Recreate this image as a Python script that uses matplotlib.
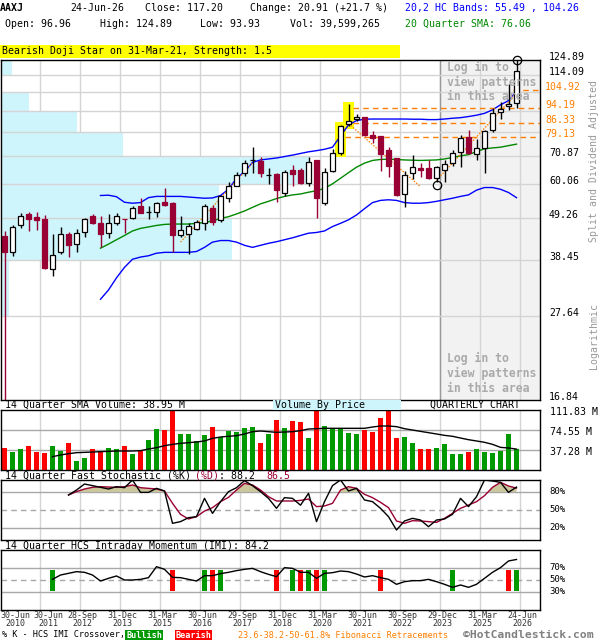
import numpy as np
import matplotlib
matplotlib.use('Agg')
import matplotlib.pyplot as plt
from matplotlib.patches import Rectangle
from matplotlib import transforms

plt.rcParams['font.family'] = ['DejaVu Sans Mono', 'DejaVu Sans']

# ---------------- data ----------------
ticker = 'AAXJ'
last_date = '24-Jun-26'
last_open, last_high, last_low, last_close = 96.96, 124.89, 93.93, 117.20
change, change_pct = 20.91, 21.7
last_volume = 39599265
band_lower_last, band_upper_last = 55.49, 104.26
sma_last = 76.06
vol_sma_last = 38.95
stoch_k_last, stoch_d_last = 88.2, 86.5
imi_last = 84.2
pattern_text = 'Bearish Doji Star on 31-Mar-21, Strength: 1.5'

quarter_labels = [('30-Jun', '2010'), ('30-Jun', '2011'), ('28-Sep', '2012'), ('31-Dec', '2013'),
                  ('31-Mar', '2015'), ('30-Jun', '2016'), ('29-Sep', '2017'), ('31-Dec', '2018'),
                  ('31-Mar', '2020'), ('30-Jun', '2021'), ('30-Sep', '2022'), ('29-Dec', '2023'),
                  ('31-Mar', '2025'), ('24-Jun', '2026')]
label_index = [0, 4, 9, 14, 19, 24, 29, 34, 39, 44, 49, 54, 59, 64]

opens = [44.3, 40.2, 47.1, 50.4, 49.6, 49.0, 36.4, 40.2, 44.8, 42.2,
         45.2, 49.8, 47.7, 45.0, 47.9, 48.9, 49.1, 52.7, 51.0, 51.1,
         54.2, 53.9, 44.6, 44.7, 46.1, 47.7, 52.2, 48.7, 55.3, 59.5,
         64.1, 69.2, 68.9, 63.4, 63.7, 57.0, 65.4, 65.4, 60.4, 69.1,
         53.9, 65.0, 72.4, 85.7, 88.1, 89.1, 80.3, 79.8, 73.5, 70.0,
         56.6, 64.1, 66.0, 66.0, 62.2, 65.4, 68.0, 72.5, 79.2, 71.8,
         74.3, 82.7, 91.7, 95.3, 96.96]
highs = [45.6, 47.1, 50.6, 51.1, 50.9, 50.1, 44.8, 46.7, 45.3, 46.2,
         49.1, 50.4, 49.8, 50.3, 50.6, 49.0, 52.7, 55.4, 52.7, 54.2,
         58.9, 54.2, 49.8, 47.7, 48.7, 53.4, 53.2, 56.4, 60.8, 64.7,
         69.1, 74.7, 70.4, 66.0, 64.1, 65.4, 67.2, 66.0, 70.7, 69.2,
         66.0, 73.8, 85.2, 96.2, 90.9, 89.5, 82.4, 80.0, 74.7, 70.2,
         65.1, 71.4, 68.0, 69.3, 66.9, 69.3, 73.5, 80.3, 82.7, 78.5,
         82.5, 94.3, 97.7, 108.2, 124.89]
lows = [15.0, 39.4, 46.5, 45.5, 45.9, 36.4, 34.9, 39.8, 39.0, 40.2,
        44.1, 47.6, 41.4, 43.7, 47.1, 45.0, 48.8, 50.6, 48.9, 49.4,
        52.7, 40.2, 44.0, 39.8, 45.9, 45.9, 47.1, 48.2, 54.2, 59.3,
        63.2, 64.3, 62.8, 60.2, 54.2, 56.1, 59.3, 60.2, 59.5, 49.2,
        53.0, 64.7, 71.4, 84.4, 87.4, 79.8, 76.5, 65.1, 62.8, 56.1,
        52.5, 62.0, 62.8, 61.9, 61.0, 61.0, 66.7, 66.4, 71.7, 69.3,
        64.3, 81.9, 88.1, 93.1, 93.93]
closes = [40.2, 46.8, 49.8, 49.0, 48.7, 36.6, 39.6, 44.8, 42.1, 45.0,
          48.9, 47.7, 44.7, 47.7, 49.8, 48.8, 52.2, 50.8, 51.1, 53.7,
          53.2, 44.4, 45.8, 47.0, 48.2, 52.7, 48.0, 55.9, 59.5, 63.5,
          68.0, 69.4, 64.3, 63.5, 57.9, 64.5, 63.8, 60.4, 68.4, 55.3,
          64.5, 72.1, 84.4, 87.2, 89.1, 80.3, 79.1, 71.8, 66.7, 56.2,
          63.5, 66.4, 65.2, 62.2, 66.3, 67.6, 72.1, 78.8, 72.1, 74.3,
          82.4, 91.6, 93.4, 96.4, 117.20]
volumes = [41.6, 34.2, 39.1, 44.7, 34.2, 32.3, 44.7, 35.4, 50.3, 16.8,
           22.9, 39.1, 35.4, 41.6, 39.8, 44.7, 29.8, 35.4, 55.9, 77.0,
           75.1, 111.8, 67.1, 67.1, 54.1, 65.2, 80.1, 61.5, 72.7, 70.8,
           78.3, 80.1, 50.3, 67.1, 93.2, 78.3, 91.3, 90.0, 59.6, 111.8,
           82.0, 77.0, 77.0, 69.0, 67.1, 74.5, 70.8, 96.9, 111.8, 59.6,
           61.5, 50.3, 39.1, 39.1, 41.0, 48.5, 29.8, 29.8, 33.5, 39.1,
           33.5, 31.7, 35.4, 67.1, 39.6]

sma_start = 12
sma20 = [41.2, 42.2, 43.3, 44.4, 45.6, 46.3, 46.7, 47.1, 47.4, 47.5, 47.5, 47.5, 47.7,
         47.9, 48.4, 49.1, 49.6, 50.4, 51.3, 52.4, 53.5, 54.3, 55.2, 55.9, 56.4, 56.7,
         57.3, 57.8, 58.6, 60.2, 62.2, 64.3, 66.4, 68.0, 69.1, 69.5, 69.6, 69.5, 69.3,
         69.2, 69.1, 69.2, 69.3, 69.7, 70.3, 71.0, 71.5, 72.8, 74.0, 74.4, 74.7, 75.4, 76.06]
upper_band = [56.2, 56.3, 55.8, 54.0, 53.7, 53.9, 55.5, 55.9, 55.9, 55.9, 55.9, 55.7, 55.5,
              55.3, 55.4, 56.2, 58.3, 62.2, 64.7, 68.3, 69.3, 69.7, 70.1, 70.7, 71.3, 72.0,
              72.7, 73.2, 73.8, 74.7, 79.8, 85.2, 87.4, 88.1, 88.2, 88.2, 88.2, 88.2, 88.2,
              88.1, 88.1, 87.9, 87.9, 88.2, 88.6, 88.9, 89.5, 90.2, 91.2, 93.1, 95.9, 98.3, 104.26]
lower_band = [30.5, 32.2, 34.6, 36.8, 38.6, 39.1, 39.4, 40.0, 40.2, 40.2, 40.2, 40.2, 40.4,
              41.4, 42.7, 43.1, 43.1, 42.7, 41.9, 41.4, 41.9, 42.4, 42.8, 43.3, 43.8, 44.4,
              45.0, 45.2, 45.6, 46.8, 47.7, 48.7, 50.1, 52.0, 53.9, 54.6, 54.8, 54.6, 53.9,
              53.7, 53.7, 53.9, 54.3, 54.8, 55.3, 55.9, 56.4, 58.0, 58.9, 58.9, 58.3, 57.2, 55.49]

vol_sma_start = 6
vol_sma14 = [24.8, 28.0, 30.4, 32.3, 32.9, 33.5, 34.2, 34.8, 35.4, 35.4, 35.4, 36.0, 39.1,
             41.6, 45.3, 47.8, 49.7, 50.9, 52.2, 54.1, 59.0, 61.5, 62.8, 64.0, 67.1, 71.4,
             72.7, 71.4, 70.2, 70.8, 71.4, 73.3,
             76.4, 77.0, 77.7, 77.7, 77.7, 77.7, 77.7, 77.7, 80.1, 82.0, 82.0, 80.8, 77.0,
             74.5, 72.0, 69.6, 67.1, 64.6, 62.8, 59.6, 56.5, 54.1, 51.6, 47.8, 42.2, 41.0, 38.95]

stoch_start = 8
stoch_k = [75, 83.3, 93.3, 90.6, 87.8, 85, 88.9, 87.2, 100, 79.4, 79.4, 86.1, 81.7, 27.8,
           30.6, 37.2, 38.9, 69.4, 44.4, 63.9, 80.6, 87.2, 98.9, 90.6, 80.6, 69.4, 52.8,
           70.6, 69.4, 58,
           77.8, 30.6, 63.9, 90.6, 100, 81.7, 86.1, 66.7, 63.9, 52.8, 38.9, 16.7, 31.7,
           36.1, 33.3, 22.2, 33.3, 35, 42.8, 69.4, 55.6, 72.2, 100, 98.3, 96.1, 79.4, 88.2]
stoch_d = [75, 80.6, 85, 87.8, 88.9, 88.3, 87.8, 88.9, 91.7, 87.2, 86.1, 85, 81.7, 61.1,
           42.8, 35, 38.9, 48.3, 53.9, 63.9, 71.1, 83.3, 94.4, 91.7, 83.3, 72.2, 65,
           65, 65, 66,
           68.3, 55.6, 56.7, 61.1, 83.3, 88.9, 86.1, 76.1, 70.6, 62.8, 53.9, 31.7, 27.8,
           32.2, 31.7, 30.6, 29.4, 36.1, 44.4, 52.8, 58.3, 63.9, 73.9, 87.8, 96.1, 90, 86.5]

imi_start = 6
imi = [51.1, 58.3, 61.1, 63.9, 62.8, 58.3, 48.3, 52.8, 56.7, 50, 50, 51.1, 53.9, 72.2,
       67.8, 54.4, 53.9, 51.1, 48.3, 57.2, 57.2, 60.6, 62.8, 65.6, 67.8, 69.4, 63.9,
       59.4, 55.6, 70.6, 69.4, 62.8,
       62.8, 52.8, 61.1, 62.2, 65, 63.9, 60, 55, 57.2, 53.9, 51.1, 42.8, 47.2, 48.9,
       48.9, 51.1, 47.2, 42.8, 37.8, 41.7, 37.8, 42.8, 52.8, 62.8, 70.6, 81.7, 84.2]
bull_cross = [6, 25, 27, 36, 38, 40, 56, 64]
bear_cross = [21, 26, 34, 37, 39, 47, 63]

pattern_idx = [42, 43]
fib_levels = [104.92, 94.19, 86.33, 79.13]
fib_low_idx, fib_low = 54, 59.7
fib_high_idx, fib_high = 64, 124.89
zigzag = [((22, 42.7), (31, 68.0)), ((43, 85.9), (52, 59.2)), ((54, 61.4), (64, 102.6))]

price_grid = [27.64, 38.45, 49.26, 60.06, 70.87, 81.68, 92.49, 103.30, 114.09]
price_labels = [16.84, 27.64, 38.45, 49.26, 60.06, 70.87, 114.09, 124.89]
price_min, price_max = 16.84, 124.89
vbp_edges = [16.84, 27.64, 38.45, 49.26, 60.06, 70.87, 81.68, 92.49, 103.30, 114.09, 124.89]
vbp_volume = [0, 8, 231, 218, 308, 122, 76, 28, 1, 11]
vol_ticks = [37.28, 74.55, 111.83]

# ---------------- style ----------------
MAROON = '#990033'
GREEN = '#009900'
RED = '#ff0000'
ORANGE = '#ff7f00'
CYAN = '#cdf5fb'
GRID = '#d4d4d4'
SUBGRID = '#a8a8a8'
FS = 7.1

W_PX, H_PX = 600, 640
fig = plt.figure(figsize=(6, 6.4), dpi=100)
fig.patch.set_facecolor('white')

def fy(py):
    return 1 - py / H_PX

AX_L, AX_W = 1, 539
XMIN = -3.5 / 8
XMAX = (AX_W - 3.5) / 8
GRID_OFF = 0.4375

def px_of(xd):
    return AX_L + (xd - XMIN) / (XMAX - XMIN) * AX_W

def make_ax(top, bottom):
    ax = fig.add_axes([AX_L / W_PX, fy(bottom), AX_W / W_PX, (bottom - top) / H_PX])
    ax.set_xlim(XMIN, XMAX)
    ax.set_xticks([])
    ax.set_yticks([])
    for s in ax.spines.values():
        s.set_color('black')
        s.set_linewidth(1.0)
        s.set_zorder(20)
    return ax

ax_p = make_ax(60, 400)
ax_v = make_ax(410, 470)
ax_s = make_ax(480, 540)
ax_m = make_ax(550, 610)

n = len(opens)
idx = np.arange(n)
vgrid = [i + GRID_OFF for i in label_index[1:]]

# ---------------- price panel ----------------
ax_p.set_yscale('log')
ax_p.set_ylim(price_min, price_max)
ax_p.yaxis.set_minor_locator(matplotlib.ticker.NullLocator())
ax_p.set_yticks([])

gray_x0 = label_index[11] + GRID_OFF
ax_p.add_patch(Rectangle((gray_x0, price_min), XMAX - gray_x0, price_max - price_min,
                         facecolor='#f2f2f2', edgecolor='none', zorder=0))
for g in vgrid:
    ax_p.axvline(g, color=GRID, lw=1, zorder=0.5)
ax_p.axvline(gray_x0, color='#999999', lw=1, zorder=0.6)

vmax = max(vbp_volume)
span = XMAX - XMIN
for lo, hi, v in zip(vbp_edges[:-1], vbp_edges[1:], vbp_volume):
    if v > 0:
        ax_p.barh(lo, v / vmax * 0.571 * span, height=hi - lo, left=XMIN, align='edge',
                  color=CYAN, edgecolor='none', zorder=1)
for g in price_grid:
    ax_p.axhline(g, color=GRID, lw=1, zorder=1.5)

for k, t in enumerate(['Log in to', 'view patterns', 'in this area']):
    fig.text(447 / W_PX, fy(67 + 15 * k), t, ha='left', va='center', fontsize=8.3,
             fontweight='bold', color='#aaaaaa', zorder=2)
    fig.text(447 / W_PX, fy(358 + 15 * k), t, ha='left', va='center', fontsize=8.3,
             fontweight='bold', color='#aaaaaa', zorder=2)

for p in pattern_idx:
    ax_p.add_patch(Rectangle((p - 0.7, lows[p] / 1.015), 1.4,
                             highs[p] * 1.015 - lows[p] / 1.015,
                             facecolor='#ffff00', edgecolor='none', zorder=2))

xb = np.arange(sma_start, sma_start + len(sma20))
ax_p.plot(xb, sma20, color='#008800', lw=1, zorder=3)
ax_p.plot(xb, upper_band, color='#0000ff', lw=1, zorder=3)
ax_p.plot(xb, lower_band, color='#0000ff', lw=1, zorder=3)

for (x0, y0), (x1, y1) in zigzag:
    ax_p.plot([x0, x1], [y0, y1], color=ORANGE, lw=0.9, ls=(0, (1.2, 1.2)), zorder=3.5)

for i in range(n):
    o, h, l, c = opens[i], highs[i], lows[i], closes[i]
    bull = c >= o
    col = 'black' if bull else MAROON
    ax_p.plot([i, i], [l, h], color=col, lw=1, zorder=4, solid_capstyle='butt')
    lo_b, hi_b = min(o, c), max(o, c)
    ax_p.add_patch(Rectangle((i - 0.35, lo_b), 0.7, hi_b - lo_b,
                             facecolor='white' if bull else MAROON,
                             edgecolor=col, lw=0.9, zorder=5))

for lvl in fib_levels:
    start = next(i for i in range(n) if highs[i] >= lvl) + 0.5
    ax_p.plot([start, XMAX], [lvl, lvl], color=ORANGE, lw=1, ls=(0, (4, 3)), zorder=3.6)

ax_p.plot([fib_low_idx], [fib_low], marker='o', ms=6, mfc='none', mec='black', mew=0.9,
          zorder=6, clip_on=False)
ax_p.plot([fib_high_idx], [fib_high], marker='o', ms=6, mfc='none', mec='black', mew=0.9,
          zorder=6, clip_on=False)

tr_p = transforms.blended_transform_factory(ax_p.transAxes, ax_p.transData)
for v in price_labels:
    ax_p.annotate(f'{v:.2f}', xy=(1, v), xycoords=tr_p, xytext=(6.5, 2.2),
                  textcoords='offset points', ha='left', va='center', fontsize=FS,
                  color='black', annotation_clip=False)
for v in fib_levels:
    ax_p.annotate(f'{v:.2f}', xy=(1, v), xycoords=tr_p, xytext=(3.6, 2.2),
                  textcoords='offset points', ha='left', va='center', fontsize=FS,
                  color=ORANGE, annotation_clip=False)

fig.text(594 / W_PX, fy(161), 'Split and Dividend Adjusted', rotation=90, ha='center',
         va='center', fontsize=FS, color='#999999')
fig.text(594 / W_PX, fy(336), 'Logarithmic', rotation=90, ha='center', va='center',
         fontsize=FS, color='#999999')

# ---------------- header ----------------
def ftxt(x, y, s, **kw):
    kw.setdefault('fontsize', FS)
    kw.setdefault('color', 'black')
    fig.text(x / W_PX, fy(y), s, ha='left', va='center', **kw)

ftxt(0, 8, ticker, fontweight='bold')
ftxt(70, 8, last_date)
ftxt(145, 8, f'Close: {last_close:.2f}')
ftxt(250, 8, f'Change: {change:.2f} (+{change_pct:.1f} %)')
ftxt(405, 8, f'20,2 HC Bands: {band_lower_last:.2f} , {band_upper_last:.2f}', color='#0000ff')
ftxt(5, 24, f'Open: {last_open:.2f}')
ftxt(100, 24, f'High: {last_high:.2f}')
ftxt(200, 24, f'Low: {last_low:.2f}')
ftxt(290, 24, f'Vol: {last_volume:,}')
ftxt(405, 24, f'20 Quarter SMA: {sma_last:.2f}', color='#008800')

fig.add_artist(Rectangle((0, fy(57.5)), 400 / W_PX, 13 / H_PX, transform=fig.transFigure,
                         facecolor='#ffff00', edgecolor='none'))
ftxt(2, 51, pattern_text)

# ---------------- volume panel ----------------
ax_v.set_ylim(0, vol_ticks[-1])
for g in vgrid:
    ax_v.axvline(g, color=GRID, lw=1, zorder=0)
for t in vol_ticks[:-1]:
    ax_v.axhline(t, color=SUBGRID, lw=1, zorder=0.5)
vcols = [GREEN if closes[i] >= opens[i] else RED for i in range(n)]
ax_v.bar(idx, volumes, width=0.7, color=vcols, zorder=2)
ax_v.plot(np.arange(vol_sma_start, vol_sma_start + len(vol_sma14)), vol_sma14,
          color='black', lw=1, zorder=3)
tr_v = transforms.blended_transform_factory(ax_v.transAxes, ax_v.transData)
for t in vol_ticks:
    ax_v.annotate(f'{t:.2f} M', xy=(1, t), xycoords=tr_v, xytext=(7, -1.3),
                  textcoords='offset points', ha='left', va='center', fontsize=FS,
                  annotation_clip=False)

ftxt(5, 405, f'14 Quarter SMA Volume: {vol_sma_last:.2f} M')
fig.add_artist(Rectangle((273 / W_PX, fy(410)), 128 / W_PX, 10 / H_PX, transform=fig.transFigure,
                         facecolor=CYAN, edgecolor='none'))
ftxt(275, 405, 'Volume By Price')
ftxt(430, 405, 'QUARTERLY CHART')

# ---------------- stochastic panel ----------------
ax_s.set_ylim(0, 100)
for g in vgrid:
    ax_s.axvline(g, color=GRID, lw=1, zorder=0)
ax_s.axhline(80, color=SUBGRID, lw=1, zorder=0.5)
ax_s.axhline(20, color=SUBGRID, lw=1, zorder=0.5)
ax_s.axhline(50, color=SUBGRID, lw=1, ls=(0, (4, 3)), zorder=0.5)
xs = np.arange(stoch_start, stoch_start + len(stoch_k))
d_arr = np.array(stoch_d, dtype=float)
ax_s.fill_between(xs, 80, d_arr, where=d_arr > 80, interpolate=True, color='#cbc69c',
                  lw=0, zorder=1)
ax_s.plot(xs, stoch_d, color=MAROON, lw=1, zorder=2)
ax_s.plot(xs, stoch_k, color='black', lw=1, zorder=3)
tr_s = transforms.blended_transform_factory(ax_s.transAxes, ax_s.transData)
for t in [80, 50, 20]:
    ax_s.annotate(f'{t}%', xy=(1, t), xycoords=tr_s, xytext=(7, 0), textcoords='offset points',
                  ha='left', va='center', fontsize=FS - 0.6, annotation_clip=False)

cw = FS * 0.602 * 100 / 72
s1 = '14 Quarter Fast Stochastic (%K) '
s2 = '(%D)'
s3 = f': {stoch_k_last:.1f}  '
ftxt(5, 476, s1)
ftxt(5 + len(s1) * cw, 476, s2, color=MAROON)
ftxt(5 + (len(s1) + len(s2)) * cw, 476, s3)
ftxt(5 + (len(s1) + len(s2) + len(s3)) * cw, 476, f'{stoch_d_last:.1f}', color=MAROON)

# ---------------- IMI panel ----------------
ax_m.set_ylim(0, 100)
for g in vgrid:
    ax_m.axvline(g, color=GRID, lw=1, zorder=0)
ax_m.axhline(70, color=SUBGRID, lw=1, zorder=0.5)
ax_m.axhline(30, color=SUBGRID, lw=1, zorder=0.5)
ax_m.axhline(50, color=SUBGRID, lw=1, ls=(0, (4, 3)), zorder=0.5)
ax_m.bar(bull_cross, 35, bottom=32, width=0.7, color=GREEN, zorder=1)
ax_m.bar(bear_cross, 35, bottom=32, width=0.7, color=RED, zorder=1)
ax_m.plot(np.arange(imi_start, imi_start + len(imi)), imi, color='black', lw=1, zorder=3)
tr_m = transforms.blended_transform_factory(ax_m.transAxes, ax_m.transData)
for t in [70, 50, 30]:
    ax_m.annotate(f'{t}%', xy=(1, t), xycoords=tr_m, xytext=(7, 0), textcoords='offset points',
                  ha='left', va='center', fontsize=FS - 0.6, annotation_clip=False)
ftxt(5, 546, f'14 Quarter HCS Intraday Momentum (IMI): {imi_last:.1f}')

# ---------------- x labels ----------------
XFS = 6.0
xcw = XFS * 0.602 * 100 / 72
prev_right = -1e9
for (dlab, ylab), li in zip(quarter_labels, label_index):
    c = px_of(li + GRID_OFF) + 2
    hw = max(len(dlab), len(ylab)) * xcw / 2
    c = max(c, hw, prev_right + 3 + hw)
    prev_right = c + hw
    fig.text(c / W_PX, fy(616), dlab, ha='center', va='center', fontsize=XFS, color='#333333')
    fig.text(c / W_PX, fy(624), ylab, ha='center', va='center', fontsize=XFS, color='#333333')

# ---------------- bottom legend ----------------
BFS = 6.1
ftxt(2, 635, '% K - HCS IMI Crossover,', fontsize=BFS)
fig.add_artist(Rectangle((125 / W_PX, fy(640)), 38 / W_PX, 10 / H_PX, transform=fig.transFigure,
                         facecolor=GREEN, edgecolor='none'))
fig.text(144 / W_PX, fy(635), 'Bullish', ha='center', va='center', fontsize=BFS,
         color='white', fontweight='bold')
fig.add_artist(Rectangle((175 / W_PX, fy(640)), 37 / W_PX, 10 / H_PX, transform=fig.transFigure,
                         facecolor=RED, edgecolor='none'))
fig.text(193.5 / W_PX, fy(635), 'Bearish', ha='center', va='center', fontsize=BFS,
         color='white', fontweight='bold')
ftxt(238, 635, '23.6-38.2-50-61.8% Fibonacci Retracements', fontsize=BFS, color=ORANGE)
ftxt(463, 635.5, '\u00a9HotCandlestick.com', fontsize=8.2, fontweight='bold', color='#808080')

fig.savefig('out.png', dpi=100)
